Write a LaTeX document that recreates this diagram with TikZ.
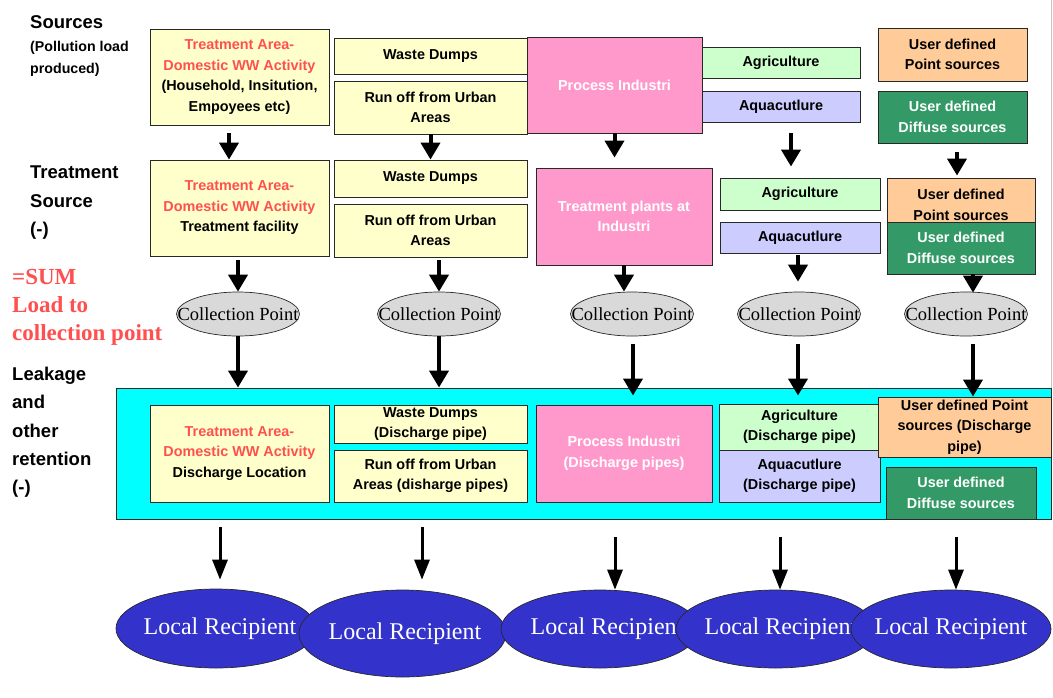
\documentclass[tikz,border=0pt]{standalone}
\usepackage{fontspec}
\setmainfont{Liberation Serif}
\newfontfamily\arialf{Liberation Sans}
\usetikzlibrary{arrows.meta,shapes.geometric}
\definecolor{cyellow}{RGB}{255,255,204}
\definecolor{cpink}{RGB}{255,153,204}
\definecolor{cagri}{RGB}{204,255,204}
\definecolor{caqua}{RGB}{204,204,255}
\definecolor{corange}{RGB}{255,204,153}
\definecolor{cgreen}{RGB}{51,153,102}
\definecolor{ccyan}{RGB}{0,255,255}
\definecolor{cblue}{RGB}{51,51,204}
\definecolor{cgray}{RGB}{217,217,217}
\definecolor{cborder}{RGB}{40,40,40}
\definecolor{tred}{RGB}{255,80,80}
\begin{document}
\begin{tikzpicture}[x=1pt,y=-1pt,
  box/.style={draw=cborder, line width=0.9pt, inner sep=0pt, align=center,
    font=\arialf\bfseries\fontsize{14.4}{20.5}\selectfont},
  head/.style={anchor=north west, inner sep=0pt, align=left,
    font=\arialf\bfseries\fontsize{18.5}{28.3}\selectfont},
  cpoint/.style={ellipse, draw=cborder, line width=0.7pt, fill=cgray, inner sep=0pt,
    minimum width=123pt, minimum height=44pt, font=\fontsize{18.5}{20}\selectfont},
  lrec/.style={ellipse, draw=cborder, line width=0.7pt, fill=cblue, inner sep=0pt, text=white,
    minimum width=200pt, minimum height=79pt, font=\fontsize{24}{26}\selectfont},
  arrA/.style={line width=4pt, -{Triangle[width=19pt,length=17pt]}},
  arrB/.style={line width=3pt, -{Triangle[width=15pt,length=20pt]}}
]
\useasboundingbox (0,0) rectangle (1053,697);
\fill[white] (0,0) rectangle (1053,697);
\draw[gray!45, line width=0.8pt] (1051,0) -- (1051,388);

% ---- left headings
\node[head] (hSrc) at (30,15) {Sources};
\node[head, font=\arialf\bfseries\fontsize{14.2}{22}\selectfont] (hPol) at (30,41) {(Pollution load\\produced)};
\node[head] (hTrt) at (30,166) {Treatment\\Source\\(-)};
\node[head, text=tred, font=\bfseries\fontsize{23}{28}\selectfont] (hSum) at (12,269) {=SUM\\Load to\\collection point};
\node[head] (hLk) at (12,367) {Leakage\\and\\other\\retention\\(-)};

% ---- row 1: sources
\node[box, fill=cyellow, minimum width=179pt, minimum height=96pt] (A1) at (239.5,77)
  {\textcolor{tred}{Treatment Area-}\\\textcolor{tred}{Domestic WW Activity}\\(Household, Insitution,\\Empoyees etc)};
\node[box, fill=cyellow, minimum width=193pt, minimum height=36pt] (WD1) at (430.5,56) {Waste Dumps};
\node[box, fill=cyellow, minimum width=193pt, minimum height=53pt] (RO1) at (430.5,107.5) {Run off from Urban\\Areas};
\node[box, fill=cpink, text=white, minimum width=175pt, minimum height=96pt] (PI1) at (614.5,85) {Process Industri};
\node[box, fill=cagri, minimum width=158pt, minimum height=31pt] (AG1) at (781,62.5) {Agriculture};
\node[box, fill=caqua, minimum width=158pt, minimum height=31pt] (AQ1) at (781,106.5) {Aquacutlure};
\node[box, fill=corange, minimum width=149pt, minimum height=53pt] (UP1) at (952.5,54.5) {User defined\\Point sources};
\node[box, fill=cgreen, text=white, minimum width=149pt, minimum height=52pt] (UD1) at (952.5,117) {User defined\\Diffuse sources};

% ---- row 2: treatment
\node[box, fill=cyellow, minimum width=179pt, minimum height=96pt] (A2) at (239.5,208)
  {\textcolor{tred}{Treatment Area-}\\\textcolor{tred}{Domestic WW Activity}\\Treatment facility};
\node[box, fill=cyellow, minimum width=193pt, minimum height=37pt] (WD2) at (430.5,178.5) {Waste Dumps};
\node[box, fill=cyellow, minimum width=193pt, minimum height=53pt] (RO2) at (430.5,230.5) {Run off from Urban\\Areas};
\node[box, fill=cpink, text=white, minimum width=176pt, minimum height=97pt] (PI2) at (624,216.5) {Treatment plants at\\Industri};
\node[box, fill=cagri, minimum width=160pt, minimum height=32pt] (AG2) at (800,194) {Agriculture};
\node[box, fill=caqua, minimum width=160pt, minimum height=31pt] (AQ2) at (800,237.5) {Aquacutlure};
\node[box, fill=corange, minimum width=148pt, minimum height=54pt] (UP2) at (961,205) {User defined\\Point sources};
\node[box, fill=cgreen, text=white, minimum width=148pt, minimum height=52pt] (UD2) at (961,248) {User defined\\Diffuse sources};

% ---- collection points
\node[cpoint] (CP1) at (238,314) {\makebox[0pt]{Collection Point}};
\node[cpoint] (CP2) at (439,314) {\makebox[0pt]{Collection Point}};
\node[cpoint] (CP3) at (632,314) {\makebox[0pt]{Collection Point}};
\node[cpoint] (CP4) at (799,314) {\makebox[0pt]{Collection Point}};
\node[cpoint] (CP5) at (966,314) {\makebox[0pt]{Collection Point}};

% ---- row 3: leakage
\node[draw=cborder, line width=0.9pt, fill=ccyan, inner sep=0pt, minimum width=935pt, minimum height=131pt] (CY) at (583.5,453.5) {};
\node[box, fill=cyellow, minimum width=179pt, minimum height=97pt] (A3) at (239.5,453.5)
  {\textcolor{tred}{Treatment Area-}\\\textcolor{tred}{Domestic WW Activity}\\Discharge Location};
\node[box, fill=cyellow, minimum width=193pt, minimum height=38pt] (WD3) at (430.5,424) {Waste Dumps\\(Discharge pipe)};
\node[box, fill=cyellow, minimum width=193pt, minimum height=52pt] (RO3) at (430.5,476) {Run off from Urban\\Areas (disharge pipes)};
\node[box, fill=cpink, text=white, minimum width=176pt, minimum height=97pt] (PI3) at (624,453.5) {Process Industri\\(Discharge pipes)};
\node[box, fill=cagri, minimum width=161pt, minimum height=46pt] (AG3) at (799.5,427) {Agriculture\\(Discharge pipe)};
\node[box, fill=caqua, minimum width=161pt, minimum height=52pt] (AQ3) at (799.5,476) {Aquacutlure\\(Discharge pipe)};
\node[box, fill=corange, minimum width=173pt, minimum height=60pt] (UP3) at (964.5,427) {User defined Point\\sources (Discharge\\pipe)};
\node[box, fill=cgreen, text=white, minimum width=150pt, minimum height=52pt] (UD3) at (961,493) {User defined\\Diffuse sources};

% ---- local recipients
\node[lrec] (LR1) at (216,628.5) {\makebox[0pt]{\hspace*{8pt}Local Recipient}};
\node[lrec, minimum width=207pt, minimum height=87pt] (LR2) at (402.5,633.5) {\makebox[0pt]{\hspace*{5pt}Local Recipient}};
\node[lrec, minimum width=198pt, minimum height=78pt] (LR3) at (600,629) {\makebox[0pt]{\hspace*{14pt}Local Recipient}};
\node[lrec, minimum width=199pt, minimum height=78pt] (LR4) at (775.5,629) {\makebox[0pt]{\hspace*{11pt}Local Recipient}};
\node[lrec, minimum width=200pt, minimum height=78pt] (LR5) at (951,629) {\makebox[0pt]{Local Recipient}};

% ---- arrows row1 -> row2
\draw[arrA] ([xshift=-10.5pt,yshift=-8pt]A1.south) -- ([xshift=-10.5pt]A2.north);
\draw[arrA] (RO1.south) -- (WD2.north);
\draw[arrA] (PI1.south) -- ([yshift=10pt]PI1.south |- PI2.north);
\draw[arrA] ([xshift=10pt,yshift=-11pt]AQ1.south) -- ([xshift=-9pt,yshift=11pt]AG2.north);
\draw[arrA] ([xshift=4.5pt,yshift=-9pt]UD1.south) -- ([xshift=-4pt,yshift=2pt]UP2.north);

% ---- arrows row2 -> collection points
\draw[arrA] ([xshift=-1.5pt,yshift=-4pt]A2.south) -- (CP1.north);
\draw[arrA] ([xshift=8.5pt,yshift=-3pt]RO2.south) -- (CP2.north);
\draw[arrA] (PI2.south) -- (PI2.south |- CP3.north);
\draw[arrA] ([xshift=-2pt,yshift=-2pt]AQ2.south) -- ([xshift=-1pt,yshift=10pt]CP4.north);
\draw[arrA] ([xshift=12pt]UD2.south) -- ([xshift=7pt,yshift=-1pt]CP5.north);

% ---- arrows collection points -> leakage
\draw[arrA] (CP1.south) -- (CP1.south |- CY.north);
\draw[arrA] (CP2.south) -- (CP2.south |- CY.north);
\draw[arrA] ([xshift=1pt,yshift=-8pt]CP3.south) -- ([xshift=1pt,yshift=-8pt]CP3.south |- CY.north);
\draw[arrA] ([xshift=-1pt,yshift=-8pt]CP4.south) -- ([xshift=-1pt,yshift=-8pt]CP4.south |- CY.north);
\draw[arrA] ([xshift=7pt,yshift=-8pt]CP5.south) -- ([xshift=7pt]CP5.south |- UP3.north);

% ---- arrows leakage -> local recipients
\coordinate (b1) at (220,527);
\coordinate (b2) at (422,527);
\coordinate (b3) at (615,537);
\coordinate (b4) at (780,537);
\coordinate (b5) at (956,537);
\draw[arrB] (b1) -- ([yshift=9pt]b1 |- LR1.north);
\draw[arrB] (b2) -- ([yshift=10pt]b2 |- LR2.north);
\draw[arrB] (b3) -- (b3 |- LR3.north);
\draw[arrB] (b4) -- (b4 |- LR4.north);
\draw[arrB] (b5) -- (b5 |- LR5.north);
\end{tikzpicture}
\end{document}
